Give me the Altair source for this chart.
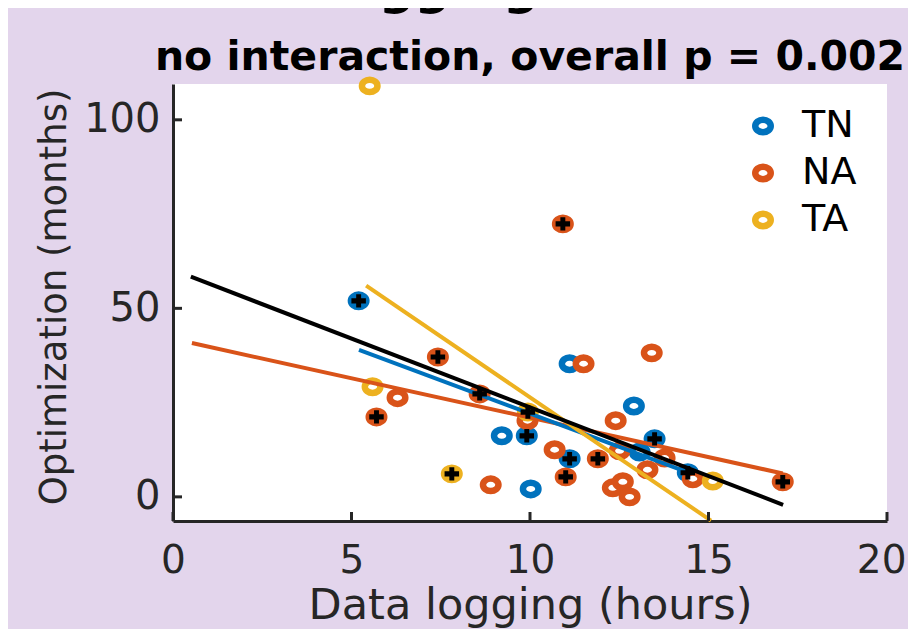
import altair as alt
import pandas as pd

# ---------------- data ----------------
series_order = ["TN", "NA", "TA"]
series_colors = ["#0072BD", "#D95319", "#EDB120"]

tn_x = [5.20, 9.21, 9.91, 10.02, 11.11, 11.11, 12.91, 13.07, 13.49, 14.42]
tn_y = [52.0, 16.2, 16.2, 2.1, 35.3, 10.1, 24.1, 11.9, 15.4, 6.4]
tn_plus = [1, 0, 1, 0, 0, 1, 0, 0, 1, 1]

na_x = [5.70, 6.29, 7.42, 8.59, 8.90, 9.93, 10.69, 10.92, 11.00, 11.50, 11.90,
        12.32, 12.40, 12.51, 12.60, 12.79, 13.29, 13.41, 13.77, 14.56, 17.08]
na_y = [21.2, 26.3, 37.1, 27.3, 3.2, 20.2, 12.5, 72.4, 5.3, 35.3, 10.1,
        2.4, 20.2, 12.2, 4.0, 0.0, 7.2, 38.2, 10.3, 4.8, 4.0]
na_plus = [1, 0, 1, 1, 0, 0, 0, 1, 1, 0, 1, 0, 0, 0, 0, 0, 0, 0, 0, 0, 1]

ta_x = [5.51, 5.59, 7.81, 9.94, 15.12]
ta_y = [109.0, 29.2, 6.1, 22.5, 4.2]
ta_plus = [0, 0, 1, 1, 0]

# fitted lines (start / end)
fit_series = ["NA", "TN", "TA", "all"]
fit_x1 = [0.53, 5.21, 5.41, 0.50]
fit_y1 = [40.8, 39.0, 56.0, 58.4]
fit_x2 = [17.08, 14.42, 15.07, 17.09]
fit_y2 = [6.2, 6.5, -6.3, -2.1]

x_ticks = [0, 5, 10, 15, 20]
y_ticks = [0, 50, 100]

title_top = ["Data logging"]
title_sub = ["no interaction, overall p = 0.002"]
x_title = "Data logging (hours)"
y_title = "Optimization (months)"

# ---------------- tables ----------------
rows = []
for s, xs, ys, ps in [("TN", tn_x, tn_y, tn_plus), ("NA", na_x, na_y, na_plus),
                      ("TA", ta_x, ta_y, ta_plus)]:
    for xv, yv, pv in zip(xs, ys, ps):
        rows.append({"x": xv, "y": yv, "series": s, "plus": pv,
                     "fillkey": s if pv else "open"})
pts = pd.DataFrame(rows)
crosses = pts[pts["plus"] == 1]
fits = pd.DataFrame({"series": fit_series, "x": fit_x1, "y": fit_y1,
                     "x2": fit_x2, "y2": fit_y2})
xt = pd.DataFrame({"x": x_ticks})
yt = pd.DataFrame({"y": y_ticks})

W, H = 714, 437
FONT = "DejaVu Sans"
AX = "#262626"
ELL = "M-1,0A1,0.8,0,1,1,1,0A1,0.8,0,1,1,-1,0Z"
CROSS = "M-1,-0.36H1V0.36H-1Z M-0.34,-0.92H0.34V0.92H-0.34Z"
RING_SIZE = 240

last_x = "datum.value == 20"
xscale = alt.Scale(domain=[0, 20], nice=False, zero=False)
yscale = alt.Scale(domain=[-6.4, 109.5], nice=False, zero=False)
xaxis = alt.Axis(title=x_title, values=x_ticks, format="d", grid=False, ticks=False,
                 tickSize=0, labelPadding=20, labelFontSize=39, labelFont=FONT,
                 labelFlush=False,
                 labelAlign=alt.condition(last_x, alt.value("right"), alt.value("center")),
                 labelOffset=alt.condition(last_x, alt.value(19), alt.value(0)),
                 labelColor=AX, domainColor=AX, domainWidth=3, titleFont=FONT,
                 titleFontSize=43, titleFontWeight="normal", titleColor=AX,
                 titleX=W / 2, titleY=97, titleBaseline="alphabetic",
                 titleAlign="center")
yaxis = alt.Axis(title=y_title, values=y_ticks, format="d", grid=False, ticks=False,
                 tickSize=0, labelPadding=13, labelFontSize=40, labelFont=FONT,
                 labelFlush=False,
                 labelColor=AX, domainColor=AX, domainWidth=3, titleFont=FONT,
                 titleFontSize=37, titleFontWeight="normal", titleColor=AX,
                 titleX=-108, titleY=H / 2 - 6, titleAngle=270,
                 titleBaseline="alphabetic", titleAlign="center")
X = alt.X("x:Q", scale=xscale, axis=xaxis)
Y = alt.Y("y:Q", scale=yscale, axis=yaxis)

stroke_scale = alt.Scale(domain=series_order, range=series_colors)
fill_scale = alt.Scale(domain=series_order + ["open"], range=series_colors + ["white"])
line_scale = alt.Scale(domain=["TN", "NA", "TA", "all"], range=series_colors + ["black"])

rings = alt.Chart(pts).mark_point(shape=ELL, size=RING_SIZE, strokeWidth=6.5, opacity=1,
                                  filled=True).encode(
    x=X, y=Y,
    stroke=alt.Stroke("series:N", scale=stroke_scale, sort=series_order,
                      legend=alt.Legend(title=None, orient="none", legendX=571,
                                        legendY=23, symbolType=ELL,
                                        symbolSize=RING_SIZE, symbolStrokeWidth=6.5,
                                        symbolFillColor="white",
                                        labelFont=FONT, labelFontSize=38,
                                        labelColor="black", labelOffset=20,
                                        rowPadding=7, padding=0)),
    fill=alt.Fill("fillkey:N", scale=fill_scale, legend=None),
)

lines = alt.Chart(fits).mark_rule(strokeWidth=4).encode(
    x=X, y=Y, x2="x2:Q", y2="y2:Q",
    color=alt.Color("series:N", scale=line_scale, legend=None),
)

plus = alt.Chart(crosses).mark_point(shape=CROSS, size=210, filled=True,
                                     fill="black", strokeWidth=0, opacity=1).encode(
    x=X, y=Y)

xticks = alt.Chart(xt).mark_rule(color=AX, strokeWidth=3).encode(
    x=X, y=alt.value(H), y2=alt.value(H - 9))
yticks = alt.Chart(yt).mark_rule(color=AX, strokeWidth=3).encode(
    y=Y, x=alt.value(0), x2=alt.value(9))

# title lines (the upper one is cut off by the top edge, as in the reference)
top_line = alt.Chart(pd.DataFrame({"t": title_top})).mark_text(
    font=FONT, fontSize=50, fontWeight="bold", color="black", align="left",
    baseline="alphabetic").encode(text="t:N", x=alt.value(4), y=alt.value(-80))
sub_line = alt.Chart(pd.DataFrame({"t": title_sub})).mark_text(
    font=FONT, fontSize=41, fontWeight="bold", color="black", align="center",
    baseline="alphabetic").encode(text="t:N", x=alt.value(W / 2), y=alt.value(-14))

chart = alt.layer(rings, lines, plus, xticks, yticks, top_line, sub_line).properties(
    width=W, height=H,
    autosize=alt.AutoSizeParams(type="none"),
    padding={"left": 165, "top": 76, "right": 21, "bottom": 108},
).configure(background="#E3D5EC").configure_view(fill="white", stroke=None)

chart.save("out.html", embed_options={"renderer": "svg", "actions": False})
